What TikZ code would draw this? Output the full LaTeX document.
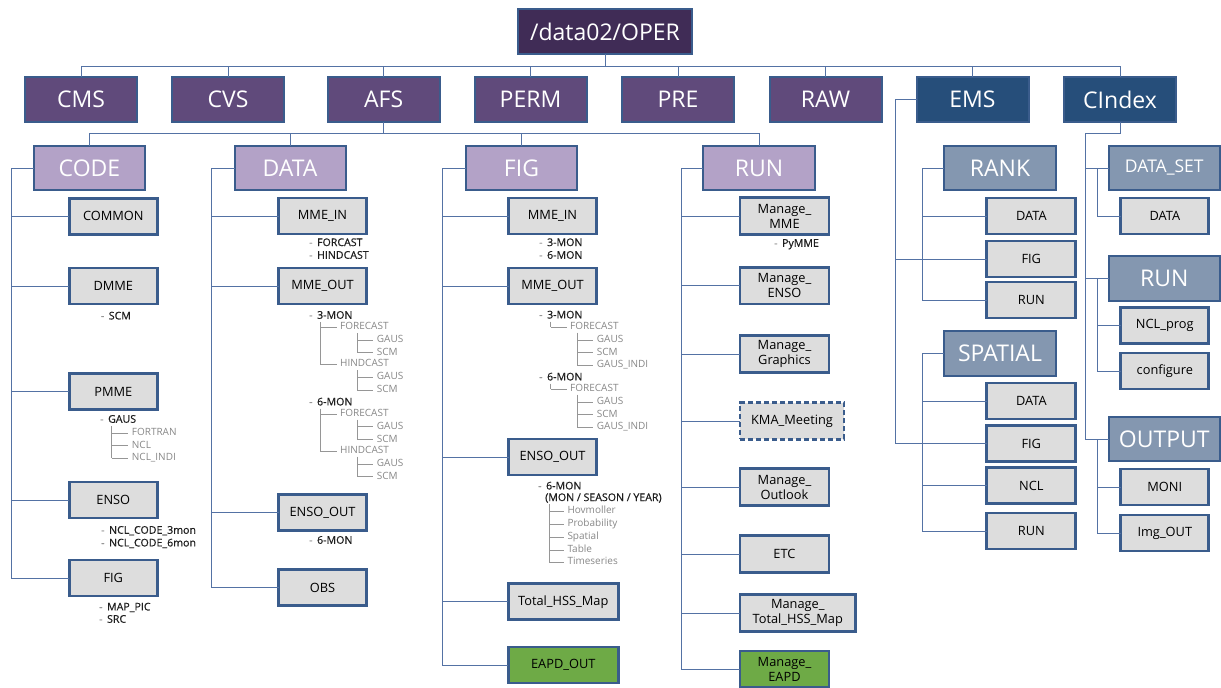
\documentclass[tikz,border=0pt]{standalone}
\usepackage{fontspec}
\setmainfont{Open Sans}
\newfontfamily\annfont[FakeBold=0.7]{Open Sans}
\definecolor{rootc}{RGB}{64,44,86}
\definecolor{purc}{RGB}{96,74,123}
\definecolor{bluec}{RGB}{38,78,122}
\definecolor{lpurc}{RGB}{179,162,199}
\definecolor{gbluec}{RGB}{132,151,176}
\definecolor{leafc}{RGB}{221,221,221}
\definecolor{greenc}{RGB}{110,170,70}
\definecolor{bordc}{RGB}{58,92,140}
\definecolor{connc}{RGB}{84,114,164}
\definecolor{treec}{RGB}{150,150,150}
\definecolor{trtextc}{RGB}{135,135,135}
\definecolor{annc}{RGB}{30,30,30}
\newcommand\dashlbl[3]{\node[ann] at (#1,#2) {{\color{treec}-}\hspace{4.5pt}#3};}
\newcommand\tritem[4]{\draw[tree] (#1,#2) -- ({#3-3.5},#2); \node[trtext] at (#3,#2) {#4};}
\newcommand\dmmeblock[2]{%
  \dashlbl{309}{#1}{#2}
  \draw[tree] (320,{#1+6}) -- (320,{#1+48.3});
  \tritem{320}{#1+11.3}{340}{FORECAST}
  \tritem{320}{#1+48.3}{340}{HINDCAST}
  \draw[tree] (357,{#1+17}) -- (357,{#1+36.7});
  \tritem{357}{#1+24}{376.7}{GAUS}
  \tritem{357}{#1+36.7}{376.7}{SCM}
  \draw[tree] (357,{#1+54}) -- (357,{#1+74});
  \tritem{357}{#1+61.3}{376.7}{GAUS}
  \tritem{357}{#1+74}{376.7}{SCM}}
\newcommand\fmmeblock[2]{%
  \dashlbl{539}{#1}{#2}
  \draw[tree] (550.7,{#1+6}) -- (550.7,{#1+11.6});
  \tritem{550.7}{#1+11.6}{570}{FORECAST}
  \draw[tree] (577.3,{#1+17}) -- (577.3,{#1+49.3});
  \tritem{577.3}{#1+24.3}{596.7}{GAUS}
  \tritem{577.3}{#1+37}{596.7}{SCM}
  \tritem{577.3}{#1+49.3}{596.7}{GAUS\_INDI}}
\begin{document}
\begin{tikzpicture}[x=1pt,y=-1pt,
  base/.style={rectangle, inner sep=0pt, outer sep=0pt, draw=bordc, line width=2pt, align=center},
  sz/.style 2 args={minimum width=#1pt, minimum height=#2pt},
  rootbox/.style={base, fill=rootc, text=white, font=\fontsize{23}{26}\selectfont},
  lonebox/.style={base, fill=purc, text=white, font=\fontsize{23}{26}\selectfont},
  lbluebox/.style={base, fill=bluec, text=white, font=\fontsize{23}{26}\selectfont},
  ltwobox/.style={base, fill=lpurc, text=white, font=\fontsize{23}{26}\selectfont},
  gbbox/.style={base, fill=gbluec, text=white, font=\fontsize{23}{26}\selectfont},
  leaf/.style={base, fill=leafc, text=black, line width=2.7pt, font=\fontsize{12.8}{15}\selectfont},
  greenleaf/.style={leaf, fill=greenc},
  conn/.style={draw=connc, line width=1pt},
  tree/.style={draw=treec, line width=0.6pt},
  ann/.style={anchor=west, inner sep=0pt, text=annc, text height=7.5pt, text depth=2pt, font=\annfont\fontsize{10.6}{12}\selectfont},
  trtext/.style={anchor=west, inner sep=0pt, text=trtextc, text height=7.3pt, text depth=2pt, font=\fontsize{10}{12}\selectfont}
]
\useasboundingbox (0,0) rectangle (1221,688);
% root and level 1
\node[rootbox, sz={174}{45}] (root) at (605,31.5) {/data02/OPER};
\node[lonebox, sz={112}{45}] (cms) at (81,99.5) {CMS};
\node[lonebox, sz={112}{45}] (cvs) at (228,99.5) {CVS};
\node[lonebox, sz={112}{45}] (afs) at (383.6,99.5) {AFS};
\node[lonebox, sz={112}{45}] (perm) at (530.5,99.5) {PERM};
\node[lonebox, sz={112}{45}] (pre) at (678,99.5) {PRE};
\node[lonebox, sz={112}{45}] (raw) at (825.5,99.5) {RAW};
\node[lbluebox, sz={112}{45}] (ems) at (972.5,99.5) {EMS};
\node[lbluebox, sz={112}{45}] (cindex) at (1120,99.5) {CIndex};
% level 2
\node[ltwobox, sz={111}{44}] (code) at (89.5,168) {CODE};
\node[ltwobox, sz={111}{44}] (data) at (290,168) {DATA};
\node[ltwobox, sz={111}{44}] (fig) at (521.5,168) {FIG};
\node[ltwobox, sz={112}{44}] (run) at (759,168) {RUN};
\node[gbbox, sz={112}{44}] (rank) at (1000,168) {RANK};
\node[gbbox, sz={112}{45}] (spatial) at (1000,353.5) {SPATIAL};
\node[gbbox, sz={111}{44}, font=\fontsize{17.5}{20}\selectfont] (dataset) at (1164.3,168) {DATA\_SET};
\node[gbbox, sz={111}{45}] (cirun) at (1164.3,278.5) {RUN};
\node[gbbox, sz={111}{44}] (output) at (1164.3,439) {OUTPUT};
% CODE leaves
\node[leaf, sz={88}{36}] (common) at (113.3,216.3) {COMMON};
\node[leaf, sz={88}{36}] (dmme) at (113.3,286) {DMME};
\node[leaf, sz={88}{36}] (pmme) at (113.3,391.5) {PMME};
\node[leaf, sz={88}{36}] (censo) at (113.3,500) {ENSO};
\node[leaf, sz={88}{36}] (cfig) at (113.3,578) {FIG};
% DATA leaves
\node[leaf, sz={88}{36}] (dmmein) at (322.5,216) {MME\_IN};
\node[leaf, sz={88}{36}] (dmmeout) at (322.5,286) {MME\_OUT};
\node[leaf, sz={88}{36}] (densoout) at (322.5,512.5) {ENSO\_OUT};
\node[leaf, sz={88}{36}] (dobs) at (322.5,587.7) {OBS};
% FIG leaves
\node[leaf, sz={88}{36}] (fmmein) at (552.5,216) {MME\_IN};
\node[leaf, sz={88}{36}] (fmmeout) at (552.5,286) {MME\_OUT};
\node[leaf, sz={88}{36}] (fensoout) at (552.5,457) {ENSO\_OUT};
\node[leaf, sz={110}{36}] (fhss) at (563.3,601.7) {Total\_HSS\_Map};
\node[greenleaf, sz={110}{36}] (feapd) at (563.3,665) {EAPD\_OUT};
% RUN leaves
\node[leaf, sz={89}{36.5}] (mmme) at (784.5,216) {Manage\_\\MME};
\node[leaf, sz={89}{36.5}] (menso) at (784.5,285.7) {Manage\_\\ENSO};
\node[leaf, sz={89}{36.5}] (mgraph) at (784.5,354) {Manage\_\\Graphics};
\node[leaf, sz={104}{36.5}, dashed, dash pattern=on 5pt off 3pt] (kma) at (792,421) {KMA\_Meeting};
\node[leaf, sz={89}{36.5}] (moutlook) at (784.5,487) {Manage\_\\Outlook};
\node[leaf, sz={89}{36.5}] (metc) at (784.5,554) {ETC};
\node[leaf, sz={115.7}{37}] (mhss) at (797.8,613) {Manage\_\\Total\_HSS\_Map};
\node[greenleaf, sz={89}{36.5}] (meapd) at (784.5,669.3) {Manage\_\\EAPD};
% RANK leaves
\node[leaf, sz={89}{36}] (rdata) at (1031.3,216) {DATA};
\node[leaf, sz={89}{36}] (rfig) at (1031.3,259) {FIG};
\node[leaf, sz={89}{36}] (rrun) at (1031.3,300) {RUN};
% SPATIAL leaves
\node[leaf, sz={89}{36}] (sdata) at (1031.3,401) {DATA};
\node[leaf, sz={89}{36}] (sfig) at (1031.3,443.5) {FIG};
\node[leaf, sz={89}{36}] (sncl) at (1031.3,485.5) {NCL};
\node[leaf, sz={89}{36}] (srun) at (1031.3,531) {RUN};
% CIndex leaves
\node[leaf, sz={88}{36}] (cidata) at (1164.8,216) {DATA};
\node[leaf, sz={88}{36}] (nclprog) at (1164.8,325.3) {NCL\_prog};
\node[leaf, sz={88}{36}] (configure) at (1164.8,371) {configure};
\node[leaf, sz={88}{36}] (moni) at (1164.8,487) {MONI};
\node[leaf, sz={88}{36}] (imgout) at (1164.8,533) {Img\_OUT};
% buses and trunks
\coordinate (bus1) at (0,66);
\coordinate (bus2) at (0,133);
\coordinate (ctrunk) at (11,0);
\coordinate (dtrunk) at (211.7,0);
\coordinate (ftrunk) at (442.7,0);
\coordinate (rntrunk) at (681,0);
\coordinate (emstrunk) at (895,0);
\coordinate (rtrunk) at (922,0);
\coordinate (citrunk) at (1085,0);
\coordinate (cctrunk) at (1097,0);
\draw[conn] (root.south) -- (root.south |- bus1);
\draw[conn] (cms.north) -- (cms.north |- bus1) -- (cindex.north |- bus1) -- (cindex.north);
\foreach \n in {cvs,afs,perm,pre,raw,ems} \draw[conn] (\n.north) -- (\n.north |- bus1);
\draw[conn] (afs.south) -- (afs.south |- bus2);
\draw[conn] (code.north) |- (run.north |- bus2) -- (run.north);
\draw[conn] (data.north) -- (data.north |- bus2);
\draw[conn] (fig.north) -- (fig.north |- bus2);
% CODE
\draw[conn] (code.west) -| (ctrunk |- cfig.west) -- (cfig.west);
\foreach \n in {common,dmme,pmme,censo} \draw[conn] (ctrunk |- \n.west) -- (\n.west);
% DATA
\draw[conn] (data.west) -| (dtrunk |- dobs.west) -- (dobs.west);
\foreach \n in {dmmein,dmmeout,densoout} \draw[conn] (dtrunk |- \n.west) -- (\n.west);
% FIG
\draw[conn] (fig.west) -| (ftrunk |- feapd.west) -- (feapd.west);
\foreach \n in {fmmein,fmmeout,fensoout,fhss} \draw[conn] (ftrunk |- \n.west) -- (\n.west);
% RUN
\draw[conn] (run.west) -| (rntrunk |- meapd.west) -- (meapd.west);
\foreach \n in {mmme,menso,mgraph,kma,moutlook,metc,mhss} \draw[conn] (rntrunk |- \n.west) -- (\n.west);
% EMS
\draw[conn] (ems.west) -| (emstrunk |- sfig.west) -- (sfig.west);
\draw[conn] (emstrunk |- rfig.west) -- (rfig.west);
% RANK
\draw[conn] (rank.west) -| (rtrunk |- rrun.west) -- (rrun.west);
\foreach \n in {rdata,rfig} \draw[conn] (rtrunk |- \n.west) -- (\n.west);
% SPATIAL
\draw[conn] (spatial.west) -| (rtrunk |- srun.west) -- (srun.west);
\foreach \n in {sdata,sfig,sncl} \draw[conn] (rtrunk |- \n.west) -- (\n.west);
% CIndex
\draw[conn] (cindex.south) -- (cindex.south |- bus2) -| (citrunk |- output.west) -- (output.west);
\foreach \n in {dataset,cirun} \draw[conn] (citrunk |- \n.west) -- (\n.west);
\draw[conn] (cctrunk |- dataset.west) |- (cidata.west);
\draw[conn] (cctrunk |- cirun.west) |- (configure.west);
\draw[conn] (cctrunk |- nclprog.west) -- (nclprog.west);
\draw[conn] (cctrunk |- output.west) |- (imgout.west);
\draw[conn] (cctrunk |- moni.west) -- (moni.west);
% CODE annotations
\dashlbl{100.7}{316.7}{SCM}
\dashlbl{100}{420}{GAUS}
\draw[tree] (111.7,426) -- (111.7,458);
\tritem{111.7}{433}{131.7}{FORTRAN}
\tritem{111.7}{445.5}{131.7}{NCL}
\tritem{111.7}{458}{131.7}{NCL\_INDI}
\dashlbl{101}{531}{NCL\_CODE\_3mon}
\dashlbl{101}{543.7}{NCL\_CODE\_6mon}
\dashlbl{99}{607.7}{MAP\_PIC}
\dashlbl{99}{620}{SRC}
% DATA annotations
\dashlbl{309}{243.3}{FORCAST}
\dashlbl{309}{256}{HINDCAST}
\dmmeblock{316}{3-MON}
\dmmeblock{402.7}{6-MON}
\dashlbl{309}{541}{6-MON}
% FIG annotations
\dashlbl{539}{243.3}{3-MON}
\dashlbl{539}{256}{6-MON}
\fmmeblock{315.7}{3-MON}
\fmmeblock{377.7}{6-MON}
\dashlbl{538}{486.7}{6-MON}
\node[ann] (msy) at (545,498.3) {(MON / SEASON / YEAR)};
\draw[tree] (549.3,504) -- (549.3,562.3);
\tritem{549.3}{511}{567.3}{Hovmoller}
\tritem{549.3}{524.3}{567.3}{Probability}
\tritem{549.3}{537.3}{567.3}{Spatial}
\tritem{549.3}{550}{567.3}{Table}
\tritem{549.3}{562.3}{567.3}{Timeseries}
% RUN annotation
\dashlbl{774}{244}{PyMME}
\end{tikzpicture}
\end{document}
